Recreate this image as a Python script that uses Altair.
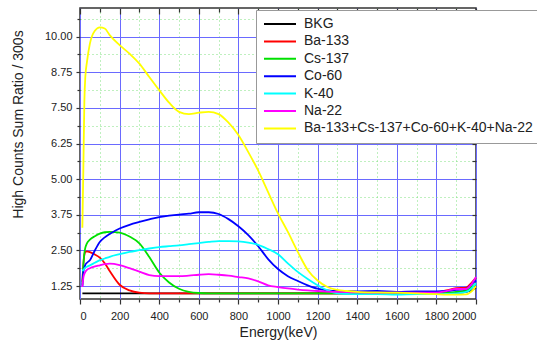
import altair as alt
import pandas as pd

energy = [12, 17, 22, 27, 35, 50, 75, 100, 125, 150,
          200, 250, 300, 350, 400, 450, 500, 550, 600, 650,
          700, 750, 800, 850, 900, 950, 1000, 1050, 1100, 1150,
          1200, 1250, 1300, 1350, 1400, 1500, 1600, 1700, 1800, 1850,
          1900, 1950, 1975, 2000]

bkg = [1.0, 1.0, 1.0, 1.0, 1.0, 1.0, 1.0, 1.0, 1.0, 1.0,
       1.0, 1.0, 1.0, 1.0, 1.0, 1.0, 1.0, 1.0, 1.0, 1.0,
       1.0, 1.0, 1.0, 1.0, 1.0, 1.0, 1.0, 1.0, 1.0, 1.0,
       1.0, 1.0, 1.0, 1.0, 1.0, 1.0, 1.0, 1.0, 1.0, 1.0,
       1.02, 1.05, 1.1, 1.2]
ba133 = [1.4, 2.0, 2.35, 2.45, 2.47, 2.44, 2.36, 2.25, 2.05, 1.78,
         1.3, 1.1, 1.02, 1.0, 1.0, 1.0, 1.0, 1.0, 1.0, 1.0,
         1.0, 1.0, 1.0, 1.0, 1.0, 1.0, 1.0, 1.0, 1.0, 1.0,
         1.0, 1.0, 1.0, 1.0, 1.0, 1.01, 1.01, 1.02, 1.03, 1.1,
         1.18, 1.2, 1.35, 1.55]
cs137 = [1.3, 2.0, 2.4, 2.6, 2.75, 2.88, 3.0, 3.09, 3.14, 3.15,
         3.13, 2.99, 2.75, 2.27, 1.73, 1.38, 1.16, 1.05, 1.01, 1.0,
         1.0, 1.0, 1.0, 1.0, 1.0, 1.0, 1.0, 1.0, 1.0, 1.0,
         1.0, 1.0, 1.0, 1.0, 1.0, 1.0, 1.0, 1.0, 1.0, 1.02,
         1.05, 1.1, 1.2, 1.35]
co60 = [1.25, 1.75, 1.9, 2.0, 2.07, 2.16, 2.5, 2.8, 2.96, 3.08,
        3.27, 3.4, 3.5, 3.59, 3.67, 3.72, 3.76, 3.79, 3.84, 3.84,
        3.78, 3.6, 3.35, 3.04, 2.65, 2.2, 1.85, 1.6, 1.43, 1.28,
        1.16, 1.1, 1.08, 1.08, 1.07, 1.08, 1.05, 1.07, 1.07, 1.08,
        1.12, 1.15, 1.3, 1.45]
k40 = [1.78, 1.82, 1.86, 1.9, 1.93, 1.98, 2.07, 2.16, 2.22, 2.28,
       2.37, 2.45, 2.51, 2.57, 2.62, 2.65, 2.68, 2.72, 2.76, 2.8,
       2.83, 2.83, 2.82, 2.78, 2.7, 2.55, 2.37, 2.05, 1.75, 1.5,
       1.28, 1.1, 1.0, 0.98, 0.97, 0.97, 0.95, 0.97, 0.97, 0.98,
       1.0, 1.05, 1.15, 1.35]
na22 = [1.22, 1.55, 1.68, 1.75, 1.82, 1.88, 1.94, 1.98, 2.02, 2.04,
        1.99, 1.88, 1.76, 1.64, 1.6, 1.6, 1.6, 1.62, 1.65, 1.67,
        1.65, 1.62, 1.57, 1.52, 1.42, 1.28, 1.22, 1.17, 1.13, 1.1,
        1.08, 1.06, 1.05, 1.04, 1.03, 1.02, 1.02, 1.02, 1.02, 1.08,
        1.15, 1.15, 1.3, 1.57]
total = [3.3, 5.4, 7.7, 8.6, 9.1, 9.75, 10.2, 10.32, 10.28, 10.05,
         9.7, 9.4, 9.05, 8.58, 8.12, 7.68, 7.36, 7.28, 7.33, 7.36,
         7.28, 6.98, 6.55, 5.95, 5.3, 4.55, 3.8, 3.15, 2.45, 1.82,
         1.45, 1.22, 1.12, 1.08, 1.05, 1.03, 1.02, 1.0, 0.97, 0.95,
         0.95, 0.96, 1.05, 1.25]

names = ["BKG", "Ba-133", "Cs-137", "Co-60", "K-40", "Na-22",
         "Ba-133+Cs-137+Co-60+K-40+Na-22"]
colors = ["#000000", "#ff0000", "#00e000", "#0000ff", "#00ffff", "#ff00ff", "#ffff00"]
series = [bkg, ba133, cs137, co60, k40, na22, total]

x_major = [0, 200, 400, 600, 800, 1000, 1200, 1400, 1600, 1800, 2000]
x_minor = [100, 300, 500, 700, 900, 1100, 1300, 1500, 1700, 1900]
y_major = [1.25, 2.5, 3.75, 5.0, 6.25, 7.5, 8.75, 10.0]
y_minor = [1.875, 3.125, 4.375, 5.625, 6.875, 8.125, 9.375, 10.625]

rows = []
for si, (name, vals) in enumerate(zip(names, series)):
    for e, v in zip(energy, vals):
        rows.append({"Energy": e, "Value": v, "Series": name, "si": si})
df = pd.DataFrame(rows)

W, H = 396, 291
xscale = alt.Scale(domain=[0, 2000], nice=False, zero=False)
yscale = alt.Scale(domain=[0.8, 11.0], nice=False, zero=False)

base = alt.Chart(df)

# minor grid + minor ticks (bottom / left)
minor = base.mark_point(opacity=0).encode(
    x=alt.X("Energy:Q", scale=xscale, axis=alt.Axis(
        orient="bottom", values=x_minor, labels=False, title=None, domain=False,
        tickSize=3, grid=True, gridColor="#7fe07f", gridDash=[1, 3], gridWidth=1)),
    y=alt.Y("Value:Q", scale=yscale, axis=alt.Axis(
        orient="left", values=y_minor, labels=False, title=None, domain=False,
        tickSize=3, grid=True, gridColor="#7fe07f", gridDash=[1, 3], gridWidth=1)),
)

lines = base.mark_line(strokeWidth=1.8, interpolate="monotone").encode(
    x=alt.X("Energy:Q", scale=xscale, axis=alt.Axis(
        orient="bottom", values=x_major, format="d", title="Energy(keV)",
        domain=False, tickSize=5, labelPadding=6, grid=True,
        gridColor="#6a6aff", gridWidth=1, titleY=33, titleBaseline="middle")),
    y=alt.Y("Value:Q", scale=yscale, axis=alt.Axis(
        orient="left", values=y_major, format=".2f",
        title="High Counts Sum Ratio / 300s", domain=False, tickSize=4,
        labelPadding=4, grid=True, gridColor="#6a6aff", gridWidth=1,
        titleX=-62, titleY=116, titleBaseline="middle", titleAngle=-90)),
    color=alt.Color("Series:N", scale=alt.Scale(domain=names, range=colors),
                    legend=alt.Legend(
                        orient="none", legendX=176, legendY=2, title=None,
                        symbolType="stroke", symbolSize=1024, symbolStrokeWidth=2,
                        labelFontSize=14, labelFont="Liberation Sans", labelLimit=300,
                        labelColor="#222222", padding=7, strokeColor="#999999",
                        fillColor="white", clipHeight=14, rowPadding=3.4,
                        labelOffset=7)),
    order=alt.Order("Energy:Q"),
)

# mirrored major ticks on top / all ticks on right (inward)
mirror = base.mark_point(opacity=0).encode(
    x=alt.X("Energy:Q", scale=xscale, axis=alt.Axis(
        orient="bottom", offset=-H, values=x_major, labels=False, title=None,
        domain=False, tickSize=6, grid=False)),
    y=alt.Y("Value:Q", scale=yscale, axis=alt.Axis(
        orient="left", offset=-W, values=y_major + y_minor, labels=False,
        title=None, domain=False, tickSize=4, grid=False)),
)

mirror_minor = base.mark_point(opacity=0).encode(
    x=alt.X("Energy:Q", scale=xscale, axis=alt.Axis(
        orient="bottom", offset=-H, values=x_minor, labels=False, title=None,
        domain=False, tickSize=4, grid=False)),
    y=alt.Y("Value:Q", scale=yscale, axis=None),
)

chart = alt.layer(minor, lines, mirror, mirror_minor).resolve_axis(
    x="independent", y="independent"
).properties(
    width=W, height=H,
    autosize=alt.AutoSizeParams(type="none"),
    padding={"left": 80, "top": 8, "right": 61, "bottom": 50},
).configure_view(
    stroke="#333333", strokeWidth=1.5
).configure_axis(
    labelFont="Liberation Sans", titleFont="Liberation Sans",
    labelFontSize=11, titleFontSize=14, labelColor="#222222",
    titleColor="#222222", titleFontWeight="normal", tickColor="#333333",
    tickWidth=1.2
)

chart.save("out.html", embed_options={"renderer": "svg", "actions": False})
